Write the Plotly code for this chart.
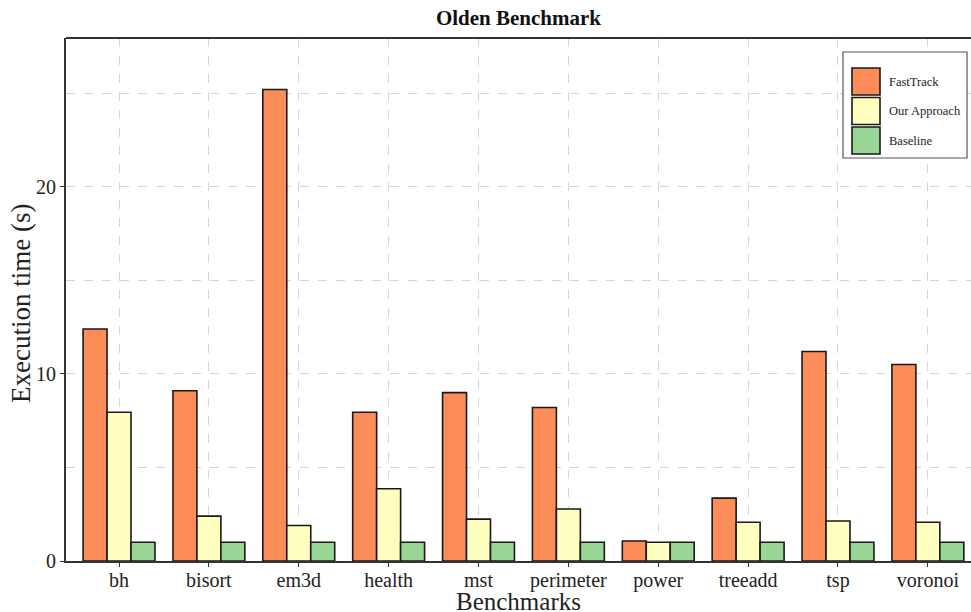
import plotly.graph_objects as go

# Olden benchmark execution times (seconds)
benchmarks = ["bh", "bisort", "em3d", "health", "mst", "perimeter", "power", "treeadd", "tsp", "voronoi"]
fasttrack = [12.4, 9.1, 25.2, 7.95, 9.0, 8.2, 1.07, 3.36, 11.2, 10.5]
our_approach = [7.95, 2.4, 1.9, 3.86, 2.24, 2.78, 1.0, 2.07, 2.14, 2.07]
baseline = [1.0, 1.0, 1.0, 1.0, 1.0, 1.0, 1.0, 1.0, 1.0, 1.0]

series_names = ["FastTrack", "Our Approach", "Baseline"]
series_values = [fasttrack, our_approach, baseline]
series_colors = ["#FC8D59", "#FFFFBF", "#99D594"]

FONT = "Liberation Serif, Times New Roman, serif"

fig = go.Figure()
for name, vals, col in zip(series_names, series_values, series_colors):
    fig.add_trace(go.Bar(
        x=benchmarks, y=vals, name=name,
        marker=dict(color=col, line=dict(color="#1a1a1a", width=1.6)),
        showlegend=False,
    ))

# Plot-area geometry in pixels (used for the legend and axis titles)
W, H = 971, 612
ML, MR, MT, MB = 66, 0, 38, 51
pw, ph = W - ML - MR, H - MT - MB

def px_x(x):
    return (x - ML) / pw

def px_y(y):
    return 1 - (y - MT) / ph

# Top frame line (the plot runs off the right edge, so no right border)
shapes = [dict(type="line", xref="paper", yref="paper", x0=0, x1=1, y0=1, y1=1,
               line=dict(color="#333333", width=2), layer="above")]

# Boxed legend drawn with large swatches
shapes.append(dict(type="rect", xref="paper", yref="paper",
                   x0=px_x(843), x1=px_x(967), y0=px_y(158), y1=px_y(52),
                   line=dict(color="#555555", width=1.2), fillcolor="white", layer="above"))
annotations = []
for i, (name, col) in enumerate(zip(series_names, series_colors)):
    top = 68 + i * 29.5
    shapes.append(dict(type="rect", xref="paper", yref="paper",
                       x0=px_x(852), x1=px_x(880), y0=px_y(top + 27), y1=px_y(top),
                       line=dict(color="#1a1a1a", width=1.6), fillcolor=col, layer="above"))
    annotations.append(dict(xref="paper", yref="paper", x=px_x(887), y=px_y(top + 13.5),
                            text=name, showarrow=False, xanchor="left", yanchor="middle",
                            font=dict(family=FONT, size=12.5, color="#222222")))

# Axis titles
annotations.append(dict(xref="paper", yref="paper", x=0.5, y=px_y(601),
                        text="Benchmarks", showarrow=False, xanchor="center", yanchor="middle",
                        font=dict(family=FONT, size=25, color="#222222")))
annotations.append(dict(xref="paper", yref="paper", x=px_x(21), y=px_y(304),
                        text="Execution time (s)", showarrow=False, textangle=-90,
                        xanchor="center", yanchor="middle",
                        font=dict(family=FONT, size=27, color="#222222")))

fig.update_layout(
    width=W, height=H,
    margin=dict(l=ML, r=MR, t=MT, b=MB, autoexpand=False),
    paper_bgcolor="white", plot_bgcolor="white",
    barmode="group", bargap=0.2, bargroupgap=0,
    title=dict(text="<b>Olden Benchmark</b>", x=(ML + pw / 2) / W, xanchor="center",
               y=1 - 18 / H, yanchor="middle",
               font=dict(family=FONT, size=21, color="#111111")),
    font=dict(family=FONT, color="#222222"),
    shapes=shapes, annotations=annotations,
)

fig.update_xaxes(
    range=[-0.59, 9.48], automargin=False,
    showline=True, linecolor="#333333", linewidth=2, mirror=False,
    ticks="outside", ticklen=4, tickcolor="#333333", ticklabelstandoff=-4,
    showgrid=True, gridcolor="#d4d4d4", griddash="dash", gridwidth=1,
    tickfont=dict(family=FONT, size=20, color="#222222"),
)
fig.update_yaxes(
    range=[0, 27.95], tickvals=[0, 10, 20], automargin=False,
    showline=True, linecolor="#333333", linewidth=2,
    ticks="outside", ticklen=4, tickcolor="#333333",
    showgrid=True, gridcolor="#d4d4d4", griddash="dash", gridwidth=1,
    minor=dict(tickvals=[5, 15, 25], showgrid=True, gridcolor="#d4d4d4", griddash="dash", gridwidth=1),
    zeroline=False,
    tickfont=dict(family=FONT, size=20, color="#222222"),
)

fig.write_html("out.html")
